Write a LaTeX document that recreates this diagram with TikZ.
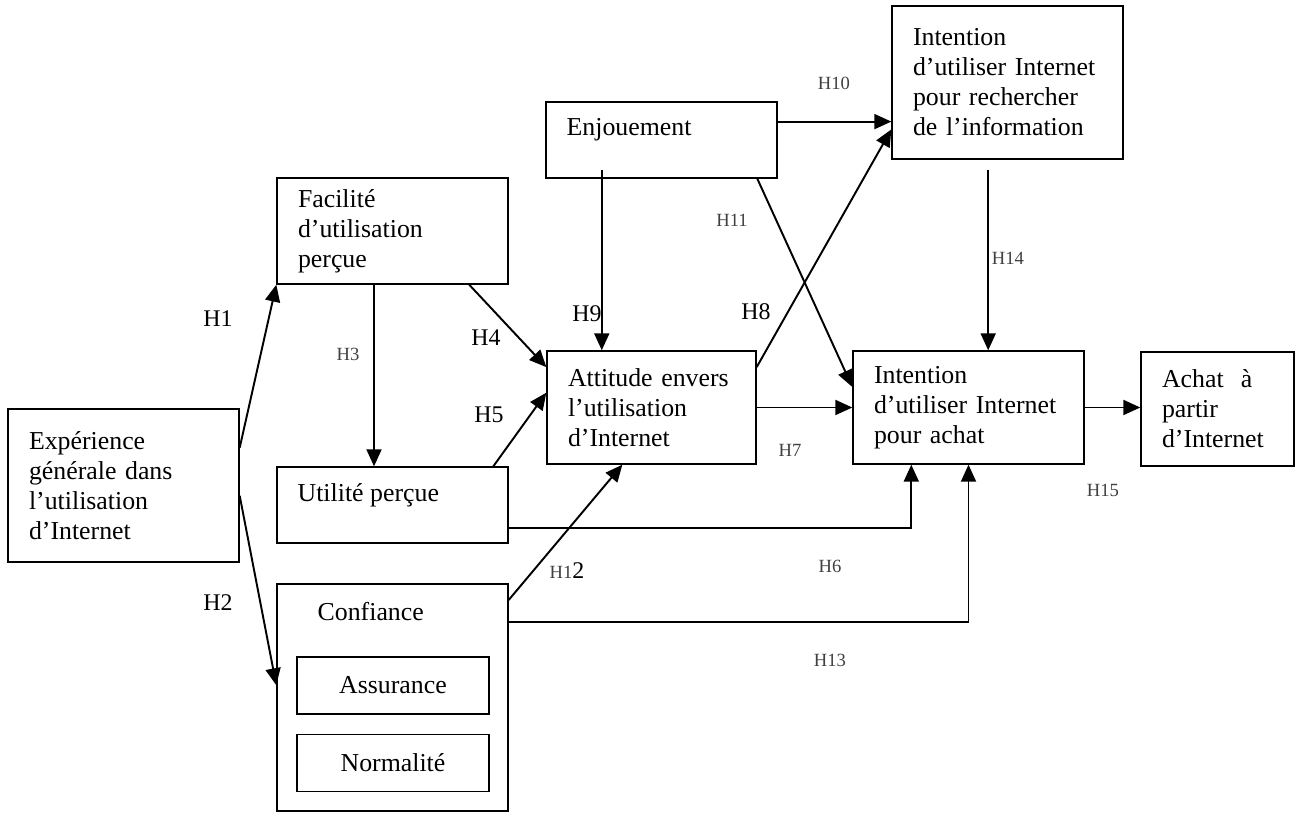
\documentclass[tikz,border=0pt]{standalone}
\usepackage{fontspec}
\setmainfont{Liberation Serif}
\usetikzlibrary{positioning}
\usetikzlibrary{arrows.meta, calc}

\begin{document}
\begin{tikzpicture}[x=0.02cm, y=-0.02cm,
		>={Triangle[length=0.34cm, width=0.3cm]},
		font=\fontsize{14.7pt}{17.1pt}\selectfont,
		box/.style={draw, line width=0.8pt, align=left,
			inner xsep=0.42cm, inner ysep=0pt, text width=3.78cm},
		subbox/.style={draw, line width=0.8pt,
			minimum width=3.84cm, minimum height=1.14cm},
		hyp/.style={font=\fontsize{13.6pt}{16pt}\selectfont},
		hypsmall/.style={font=\fontsize{10.6pt}{12pt}\selectfont, text=black!75},
		link/.style={->, line width=1.1pt}
		]
		
		\useasboundingbox (0,0) rectangle (1295,813);
		
		\node[box, minimum height=3.06cm] (exp) at (123.5,485.5) {Expérience\\générale dans\\l’utilisation\\d’Internet};
		\node[box, minimum height=2.12cm] (fac) at (392.5,231) {Facilité\\d’utilisation\\perçue};
		\node[box, minimum height=1.52cm,
			label={[anchor=west, inner sep=0pt, xshift=0.42cm, yshift=-0.58cm]north west:Utilité perçue}] (uti) at (392.5,505) {};
		\node[box, minimum height=4.54cm,
			label={[anchor=west, inner sep=0pt, xshift=0.82cm, yshift=-0.56cm]north west:Confiance}] (conf) at (392.5,697.5) {};
		\node[subbox] (assu) at (393,685.5) {Assurance};
		\node[subbox, below=0.38cm of assu] (norm) {Normalité};
		\node[box, minimum height=1.52cm,
			label={[anchor=west, inner sep=0pt, xshift=0.42cm, yshift=-0.56cm]north west:Enjouement}] (enj) at (661.5,140) {};
		\node[box, text width=3.34cm, minimum height=2.26cm] (att) at (651.5,407.5) {Attitude envers\\l’utilisation\\d’Internet};
		\node[box, minimum height=3.06cm] (info) at (1007.5,82.5) {Intention\\d’utiliser Internet\\pour rechercher\\de l’information};
		\node[box, minimum height=2.26cm] (iach) at (968.5,407.5) {Intention\\d’utiliser Internet\\pour achat};
		\node[box, text width=2.22cm, minimum height=2.28cm] (achat) at (1217.5,409) {Achat\ \ à\\partir\\d’Internet};
		
		% links
		\draw[link] (exp.18) -- (fac.south west);
		\draw[link] (exp.-5) -- (conf.174);
		\draw[link] (fac.-109) -- (fac.-109 |- uti.north);
		\draw[link] (fac.-35) -- (att.159);
		\draw[link] (uti.21.5) -- (att.172);
		\draw[link] ($(att.131 |- enj.south)+(0,-9)$) -- (att.131);
		\draw[link] (att.21) -- (info.202);
		\draw[link] (enj.9) -- (enj.9 -| info.west);
		\draw[link] (enj.-22) -- (iach.170);
		\draw[link] (att.east) -- (iach.west);
		\draw[link] ($(iach.71 |- info.south)+(0,10)$) -- (iach.71);
		\draw[link] (iach.east) -- (iach.east -| achat.west);
		\draw[link] (uti.-11) -| (iach.-135);
		\draw[link] (conf.33) -| (iach.south);
		\draw[link] (conf.40) -- (att.-117);
		
		% hypotheses
		\node[hyp] (h1) at (218,319) {H1};
		\node[hyp] (h2) at (218,603) {H2};
		\node[hypsmall] (h3) at (348,354) {H3};
		\node[hyp] (h4) at (486,338) {H4};
		\node[hyp] (h5) at (489,415) {H5};
		\node[hypsmall] (h6) at (830,566) {H6};
		\node[hypsmall] (h7) at (790,450) {H7};
		\node[hyp] (h8) at (756,312) {H8};
		\node[hyp] (h9) at (587,314) {H9};
		\node[hypsmall] (h10) at (834,83) {H10};
		\node[hypsmall] (h11) at (732,220) {H11};
		\node[hypsmall] (h12) at (567,571) {H1{\color{black}\fontsize{13.6pt}{16pt}\selectfont 2}};
		\node[hypsmall] (h13) at (830,660) {H13};
		\node[hypsmall] (h14) at (1008,258) {H14};
		\node[hypsmall] (h15) at (1103,490) {H15};
	\end{tikzpicture}
\end{document}
